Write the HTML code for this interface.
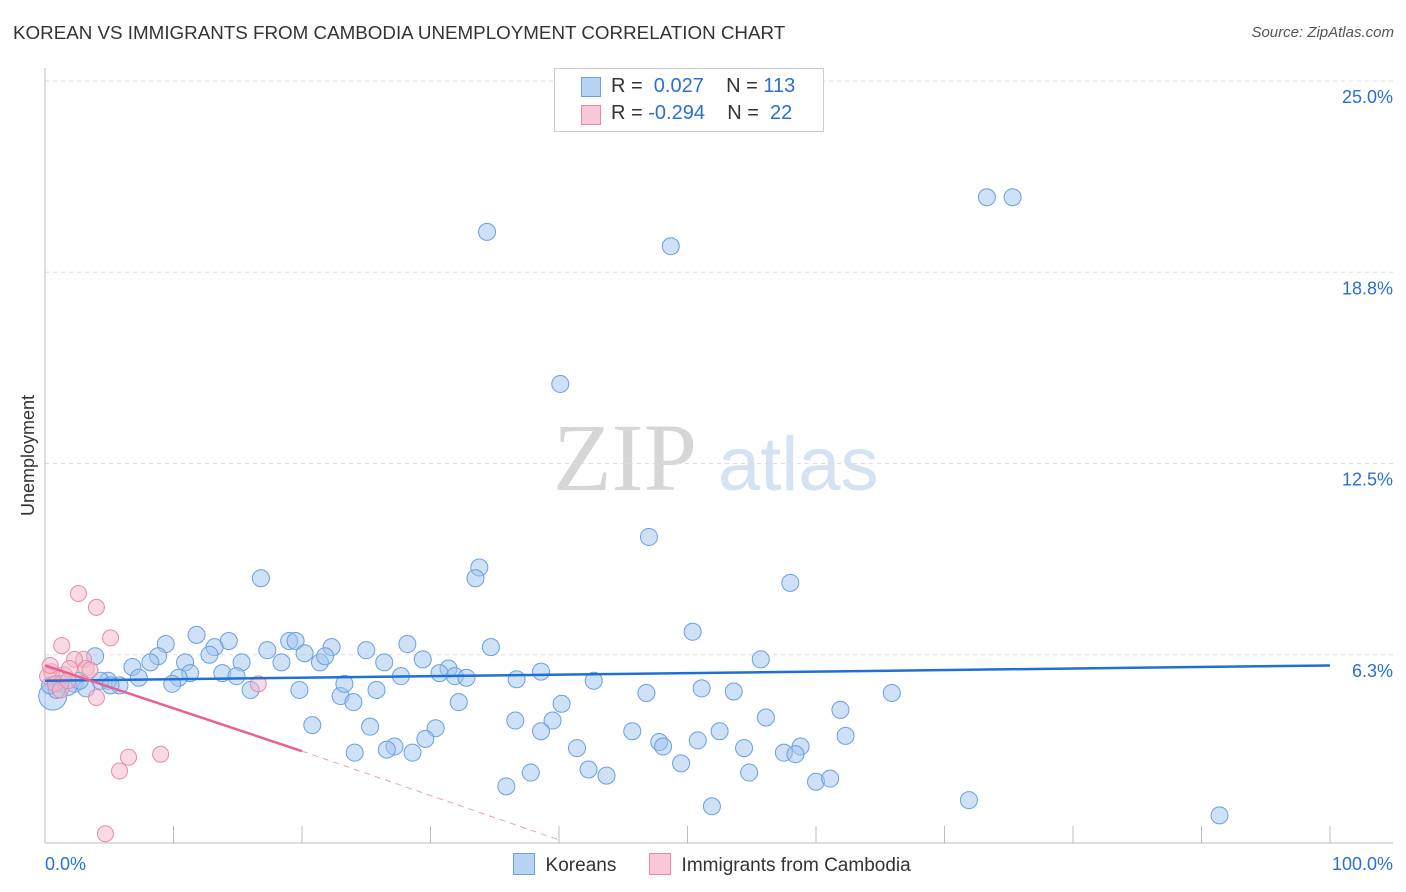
<!DOCTYPE html>
<html><head><meta charset="utf-8"><style>
body{margin:0;background:#fff;font-family:"Liberation Sans",sans-serif;}
#wrap{position:relative;width:1406px;height:892px;overflow:hidden;}
.t{position:absolute;white-space:nowrap;}
</style></head><body>
<div id="wrap">
<div class="t" style="left:13px;top:22px;font-size:18.8px;color:#333;">KOREAN VS IMMIGRANTS FROM CAMBODIA UNEMPLOYMENT CORRELATION CHART</div>
<div class="t" style="right:12px;top:24px;font-size:15px;color:#555;font-style:italic;">Source: ZipAtlas.com</div>
<div class="t" style="left:-32px;top:445px;font-size:18px;color:#333;transform:rotate(-90deg);">Unemployment</div>
<svg id="svg" width="1406" height="892" style="position:absolute;left:0;top:0"></svg>
<div style="position:absolute;left:554px;top:68px;width:268px;height:62px;border:1px solid #ccc;background:#fff;font-size:20px;">
 <div style="position:absolute;left:26px;top:8px;width:18px;height:18px;background:#b8d3f4;border:1px solid #6a9fe0"></div>
 <div class="t" style="left:56px;top:6px;color:#333">R = &nbsp;<span style="color:#2a6fd6">0.027</span>&nbsp;&nbsp;&nbsp; N = <span style="color:#2a6fd6">113</span></div>
 <div style="position:absolute;left:26px;top:36px;width:18px;height:18px;background:#f8c8d6;border:1px solid #e88aa8"></div>
 <div class="t" style="left:56px;top:33px;color:#333">R = <span style="color:#2a6fd6">-0.294</span>&nbsp;&nbsp;&nbsp; N = &nbsp;<span style="color:#2a6fd6">22</span></div>
</div>
<div style="position:absolute;left:513px;top:853px;font-size:19px;color:#333">
 <span style="display:inline-block;width:20px;height:20px;background:#b8d3f4;border:1px solid #6a9fe0;vertical-align:-4px"></span>&nbsp; Koreans</div>
<div style="position:absolute;left:649px;top:853px;font-size:19px;color:#333">
 <span style="display:inline-block;width:20px;height:20px;background:#f8c8d6;border:1px solid #e88aa8;vertical-align:-4px"></span>&nbsp; Immigrants from Cambodia</div>
</div>
<script>
const blueX=[34.4,48.7,73.3,75.3,40.1,47.0,16.8,33.8,33.5,58.0,50.4,11.8,9.4,14.3,19.0,19.5,13.2,17.3,20.2,22.3,25.0,28.2,34.7,3.9,8.8,6.8,8.2,10.9,12.8,15.3,18.4,21.4,21.8,26.4,29.4,31.4,30.7,31.9,32.8,27.7,38.6,55.7,36.7,42.7,11.3,13.8,14.9,10.4,7.3,9.9,5.8,4.9,4.3,2.3,1.8,1.2,0.6,19.8,25.8,16.0,23.0,24.0,32.2,23.3,40.2,46.8,51.1,53.6,65.9,61.9,20.8,25.3,30.4,36.6,39.5,38.6,45.7,52.5,56.1,62.3,29.6,27.2,24.1,26.6,28.6,41.4,47.8,48.1,50.8,54.4,58.8,57.5,58.4,49.5,37.8,42.3,43.7,54.8,60.0,61.1,35.9,51.9,71.9,91.4,3.2,5.1,0.9,0.4,2.7];
const blueY=[20.07,19.6,21.2,21.2,15.1,10.1,8.75,9.1,8.75,8.6,7.0,6.9,6.6,6.7,6.7,6.7,6.5,6.4,6.3,6.5,6.4,6.6,6.5,6.2,6.2,5.85,6.0,6.0,6.25,6.0,6.0,6.0,6.2,6.0,6.1,5.8,5.65,5.55,5.5,5.55,5.7,6.1,5.45,5.4,5.65,5.65,5.55,5.5,5.5,5.3,5.25,5.4,5.4,5.3,5.2,5.3,4.9,5.1,5.1,5.1,4.9,4.7,4.7,5.3,4.65,5.0,5.15,5.05,5.0,4.45,3.95,3.9,3.85,4.1,4.1,3.75,3.75,3.75,4.2,3.6,3.5,3.25,3.05,3.15,3.05,3.2,3.4,3.25,3.45,3.2,3.25,3.05,3.0,2.7,2.4,2.5,2.3,2.4,2.1,2.2,1.95,1.3,1.5,1.0,5.15,5.25,5.1,5.25,5.4];
const pinkX=[2.6,4.0,5.1,1.3,3.0,2.3,3.2,3.5,1.5,0.5,0.2,0.8,16.6,4.0,6.5,5.8,9.0,4.7,1.9,1.2,1.8,0.4];
const pinkY=[8.25,7.8,6.8,6.55,6.1,6.1,5.8,5.75,5.6,5.7,5.55,5.3,5.3,4.85,2.9,2.45,3.0,0.4,5.8,5.1,5.4,5.9];
const yTicks=[6.3,12.5,18.8,25.0];
const yTickVals=[6.25,12.5,18.75,25];
const xTicks=[0,10,20,30,40,50,60,70,80,90,100];
const blueTrend=[5.4,5.9];
const pinkTrend=[5.9,3.1,0.2];
const pinkTrendX=[0,20,40];

const sx=v=>45+v*12.85, sy=v=>846-v*30.6;
const svg=document.getElementById('svg');
const NS='http://www.w3.org/2000/svg';
function mk(t,a){const e=document.createElementNS(NS,t);for(const k in a)e.setAttribute(k,a[k]);svg.appendChild(e);return e;}
let wm=mk('text',{x:553,y:490,'font-size':96,fill:'#d6d6d6','font-family':'Liberation Serif,serif'});wm.textContent='ZIP';


let wm2=mk('text',{x:718,y:490,'font-size':76,fill:'#d4e2f4','font-family':'Liberation Sans,sans-serif'});wm2.textContent='atlas';


yTickVals.forEach((v,i)=>{
 const g=mk('line',{x1:45,x2:1393,y1:sy(v),y2:sy(v),stroke:'#ddd','stroke-dasharray':'4,4'});
 
 
 const t=mk('text',{x:1393,y:sy(v)+22,'text-anchor':'end','font-size':18,fill:'#2a6fd6'});t.textContent=yTicks[i].toFixed(1)+'%';
 
 
});
let ax=mk('line',{x1:45,x2:1393,y1:843,y2:843,stroke:'#bbb'});


let ay=mk('line',{x1:45,x2:45,y1:68,y2:843,stroke:'#bbb'});


xTicks.forEach(v=>{const l=mk('line',{x1:sx(v),x2:sx(v),y1:826,y2:843,stroke:'#bbb'});
 
 });
let xl=mk('text',{x:45,y:870,'font-size':18,fill:'#2a6fd6'});xl.textContent=xTicks[0].toFixed(1)+'%';


let xr=mk('text',{x:1393,y:870,'text-anchor':'end','font-size':18,fill:'#2a6fd6'});xr.textContent=xTicks[10].toFixed(1)+'%';


blueX.forEach((x,i)=>{const c=mk('circle',{cx:sx(x),cy:sy(blueY[i]),r:i==56?14:8.5,fill:'rgba(160,196,240,0.5)',stroke:'#6a9fe0','stroke-width':1});
 
 });
pinkX.forEach((x,i)=>{const c=mk('circle',{cx:sx(x),cy:sy(pinkY[i]),r:8,fill:'rgba(244,182,200,0.5)',stroke:'#e88aa8','stroke-width':1});
 
 });
let bl=mk('line',{x1:sx(0),y1:sy(blueTrend[0]),x2:sx(100),y2:sy(blueTrend[1]),stroke:'#1f6fd6','stroke-width':2.5});


let pl=mk('line',{x1:sx(pinkTrendX[0]),y1:sy(pinkTrend[0]),x2:sx(pinkTrendX[1]),y2:sy(pinkTrend[1]),stroke:'#e8608f','stroke-width':2.5});


let pd=mk('line',{x1:sx(pinkTrendX[1]),y1:sy(pinkTrend[1]),x2:sx(pinkTrendX[2]),y2:sy(pinkTrend[2]),stroke:'#e8a0b8','stroke-width':1,'stroke-dasharray':'6,5'});


</script>
</body></html>
